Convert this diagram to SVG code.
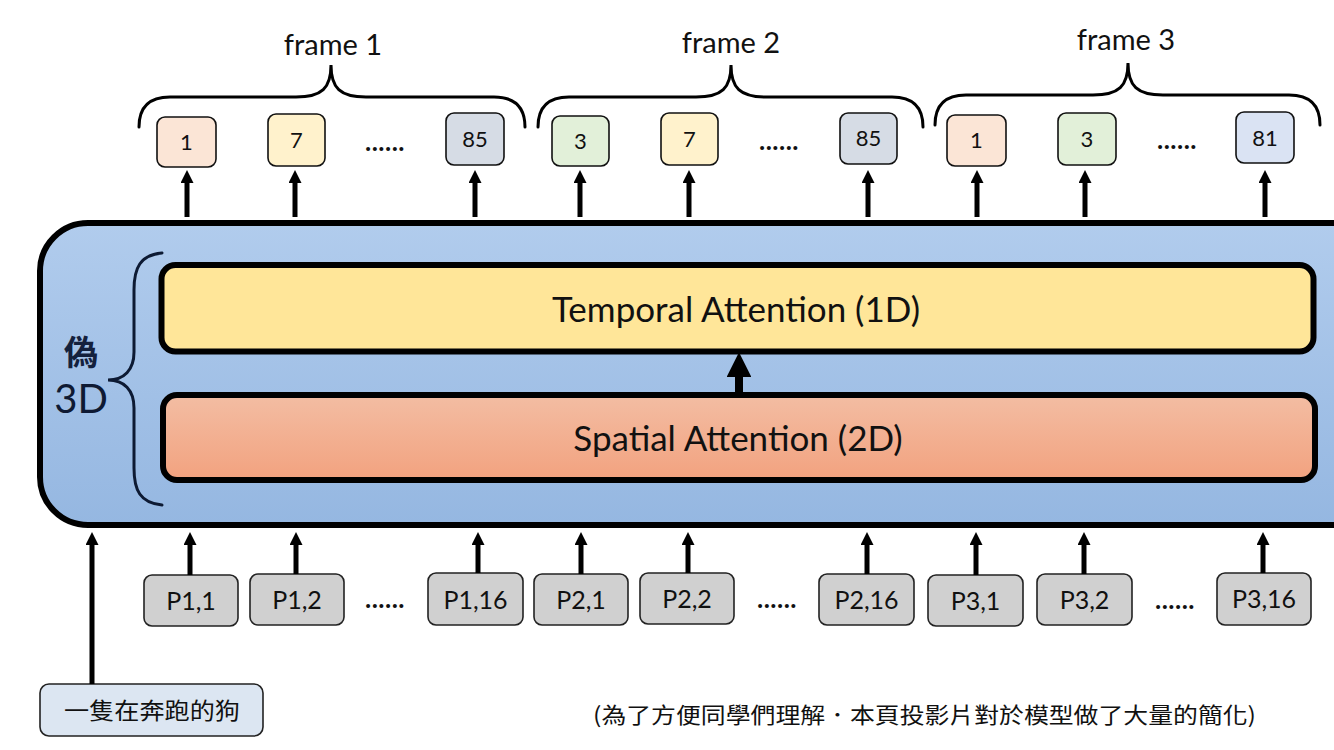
<svg xmlns="http://www.w3.org/2000/svg" width="1334" height="750" viewBox="0 0 1334 750">
<defs>
<linearGradient id="gBlue" x1="0" y1="0" x2="0" y2="1"><stop offset="0" stop-color="#b1cced"/><stop offset="1" stop-color="#95b7e1"/></linearGradient>
<linearGradient id="gOrange" x1="0" y1="0" x2="0" y2="1"><stop offset="0" stop-color="#f3bda3"/><stop offset="1" stop-color="#f2a27f"/></linearGradient>
<marker id="ah" viewBox="0 0 10 10" refX="0" refY="5" markerWidth="2.6" markerHeight="2.6" orient="auto"><path d="M0,0 L10,5 L0,10 z" fill="#000"/></marker>
<marker id="ahBig" viewBox="0 0 10 10" refX="0" refY="5" markerWidth="3.1" markerHeight="3.1" orient="auto"><path d="M0,0 L10,5 L0,10 z" fill="#000"/></marker>
<style>
.lat{font-family:Lato,"Open Sans","Liberation Sans",sans-serif;fill:#111}
.cjk{font-family:"Noto Sans CJK TC","Noto Sans CJK SC",sans-serif;fill:#111}
.out{stroke:#111;stroke-width:1.6}
.pbox{fill:#d0d0d0;stroke:#222;stroke-width:1.6}
.brace{fill:none;stroke:#000;stroke-width:3;stroke-linecap:round}
.arr{stroke:#000;stroke-width:5;fill:none;marker-end:url(#ah)}
.dots{font-family:Lato,"Liberation Sans",sans-serif;font-size:26px;font-weight:bold;fill:#111;letter-spacing:0.5px}
</style>
</defs>
<rect width="1334" height="750" fill="#fff"/>

<g id="pseudo3d">
<rect x="40" y="223" width="1340" height="302" rx="48" fill="url(#gBlue)" stroke="#000" stroke-width="6"/>
<path class="brace" d="M162,253 C140,255 134,268 134,290 L134,352 C134,370 124,380 108,380 C124,380 134,390 134,408 L134,468 C134,490 140,503 162,505" style="stroke:#0d1a33"/>
<text class="cjk" x="81" y="365" font-size="34" font-weight="bold" text-anchor="middle" style="fill:#14213d">偽</text>
<text class="lat" x="81" y="413" font-size="40" text-anchor="middle" style="fill:#0f1a33">3D</text>
</g>

<g id="temporal">
<rect x="161.5" y="265" width="1152" height="86.5" rx="14" fill="#ffe699" stroke="#000" stroke-width="6"/>
<text class="lat" x="736" y="322" font-size="35" text-anchor="middle">Temporal Attention (1D)</text>
</g>
<g id="spatial">
<rect x="163" y="395" width="1152" height="85" rx="14" fill="url(#gOrange)" stroke="#000" stroke-width="6"/>
<text class="lat" x="738" y="451" font-size="35" text-anchor="middle">Spatial Attention (2D)</text>
</g>

<g id="frame1">
<path class="brace" d="M139,127 C139,108 148,97 170,97 L296,97 C322,97 331,88 331,65 C331,88 340,97 366,97 L494,97 C516,97 525,108 525,127"/>
<text class="lat" x="333" y="55" font-size="29" text-anchor="middle">frame 1</text>
</g>
<g id="frame2">
<path class="brace" d="M538,127 C538,108 547,97 569,97 L696,97 C722,97 731,88 731,65 C731,88 740,97 766,97 L892,97 C914,97 923,108 923,127"/>
<text class="lat" x="731" y="53" font-size="29" text-anchor="middle">frame 2</text>
</g>
<g id="frame3">
<path class="brace" d="M935,125 C935,106 944,95 966,95 L1093,95 C1119,95 1128,86 1128,63 C1128,86 1137,95 1163,95 L1289,95 C1311,95 1320,106 1320,125"/>
<text class="lat" x="1126" y="50" font-size="29" text-anchor="middle">frame 3</text>
</g>

<g id="out-f1-1"><rect class="out" x="157" y="117" width="59" height="50" rx="8" fill="#fbe5d6"/><text class="lat" x="186.5" y="150" font-size="22" text-anchor="middle">1</text></g>
<g id="out-f1-7"><rect class="out" x="268" y="114" width="57" height="52" rx="8" fill="#fff2cc"/><text class="lat" x="296.5" y="148" font-size="22" text-anchor="middle">7</text></g>
<text class="dots" x="385" y="151" text-anchor="middle">......</text>
<g id="out-f1-85"><rect class="out" x="446" y="113" width="58" height="52" rx="8" fill="#d6dce5"/><text class="lat" x="475" y="147" font-size="22" text-anchor="middle">85</text></g>

<g id="out-f2-3"><rect class="out" x="552" y="116" width="57" height="50" rx="8" fill="#e2f0d9"/><text class="lat" x="580.5" y="149" font-size="22" text-anchor="middle">3</text></g>
<g id="out-f2-7"><rect class="out" x="661" y="113" width="57" height="52" rx="8" fill="#fff2cc"/><text class="lat" x="689.5" y="147" font-size="22" text-anchor="middle">7</text></g>
<text class="dots" x="779" y="150" text-anchor="middle">......</text>
<g id="out-f2-85"><rect class="out" x="840" y="113" width="57" height="51" rx="8" fill="#d6dce5"/><text class="lat" x="868.5" y="146" font-size="22" text-anchor="middle">85</text></g>

<g id="out-f3-1"><rect class="out" x="947" y="115" width="59" height="51" rx="8" fill="#fbe5d6"/><text class="lat" x="976.5" y="148" font-size="22" text-anchor="middle">1</text></g>
<g id="out-f3-3"><rect class="out" x="1058" y="113" width="58" height="52" rx="8" fill="#e2f0d9"/><text class="lat" x="1087" y="147" font-size="22" text-anchor="middle">3</text></g>
<text class="dots" x="1177" y="149" text-anchor="middle">......</text>
<g id="out-f3-81"><rect class="out" x="1236" y="112" width="58" height="51" rx="8" fill="#dae3f3"/><text class="lat" x="1265" y="146" font-size="22" text-anchor="middle">81</text></g>

<g id="p1-1"><rect class="pbox" x="144" y="575" width="94" height="51" rx="8"/><text class="lat" x="191" y="610" font-size="25" text-anchor="middle">P1,1</text></g>
<g id="p1-2"><rect class="pbox" x="250" y="574" width="94" height="51" rx="8"/><text class="lat" x="297" y="609" font-size="25" text-anchor="middle">P1,2</text></g>
<text class="dots" x="385" y="608" text-anchor="middle">......</text>
<g id="p1-16"><rect class="pbox" x="428" y="573" width="95" height="52" rx="8"/><text class="lat" x="475.5" y="609" font-size="25" text-anchor="middle">P1,16</text></g>

<g id="p2-1"><rect class="pbox" x="534" y="574" width="94" height="51" rx="8"/><text class="lat" x="581" y="609" font-size="25" text-anchor="middle">P2,1</text></g>
<g id="p2-2"><rect class="pbox" x="640" y="573" width="94" height="51" rx="8"/><text class="lat" x="687" y="608" font-size="25" text-anchor="middle">P2,2</text></g>
<text class="dots" x="777" y="608" text-anchor="middle">......</text>
<g id="p2-16"><rect class="pbox" x="819" y="574" width="95" height="51" rx="8"/><text class="lat" x="866.5" y="609" font-size="25" text-anchor="middle">P2,16</text></g>

<g id="p3-1"><rect class="pbox" x="928" y="575" width="95" height="51" rx="8"/><text class="lat" x="975.5" y="610" font-size="25" text-anchor="middle">P3,1</text></g>
<g id="p3-2"><rect class="pbox" x="1037" y="574" width="95" height="51" rx="8"/><text class="lat" x="1084.5" y="609" font-size="25" text-anchor="middle">P3,2</text></g>
<text class="dots" x="1175" y="609" text-anchor="middle">......</text>
<g id="p3-16"><rect class="pbox" x="1217" y="573" width="94" height="52" rx="8"/><text class="lat" x="1264" y="608" font-size="25" text-anchor="middle">P3,16</text></g>

<g id="prompt"><rect x="40" y="684" width="223" height="52" rx="9" fill="#dce6f2" stroke="#222" stroke-width="1.6"/><text class="cjk" x="152" y="719" font-size="23" text-anchor="middle" textLength="176" lengthAdjust="spacingAndGlyphs">一隻在奔跑的狗</text></g>

<text id="note" class="cjk" x="593" y="723" font-size="22" textLength="663" lengthAdjust="spacingAndGlyphs">(為了方便同學們理解．本頁投影片對於模型做了大量的簡化)</text>

<g id="connectors">
<line class="arr" x1="187" y1="217" x2="187" y2="183"/>
<line class="arr" x1="295" y1="217" x2="295" y2="183"/>
<line class="arr" x1="475" y1="217" x2="475" y2="183"/>
<line class="arr" x1="580" y1="217" x2="580" y2="183"/>
<line class="arr" x1="689" y1="217" x2="689" y2="183"/>
<line class="arr" x1="868" y1="217" x2="868" y2="183"/>
<line class="arr" x1="977" y1="217" x2="977" y2="183"/>
<line class="arr" x1="1085" y1="217" x2="1085" y2="183"/>
<line class="arr" x1="1265" y1="217" x2="1265" y2="183"/>
<line class="arr" x1="190" y1="575" x2="190" y2="545"/>
<line class="arr" x1="296" y1="574" x2="296" y2="545"/>
<line class="arr" x1="478" y1="573" x2="478" y2="545"/>
<line class="arr" x1="581" y1="574" x2="581" y2="545"/>
<line class="arr" x1="688" y1="573" x2="688" y2="545"/>
<line class="arr" x1="867" y1="574" x2="867" y2="545"/>
<line class="arr" x1="976" y1="575" x2="976" y2="545"/>
<line class="arr" x1="1084" y1="574" x2="1084" y2="545"/>
<line class="arr" x1="1263" y1="573" x2="1263" y2="545"/>
<line class="arr" x1="92" y1="684" x2="92" y2="545"/>
<line x1="739" y1="395" x2="739" y2="377" stroke="#000" stroke-width="8" marker-end="url(#ahBig)"/>
</g>
</svg>
